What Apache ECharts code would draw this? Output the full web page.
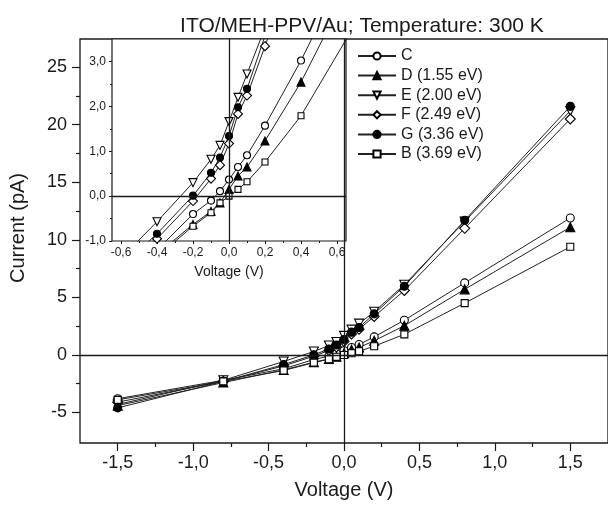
<!DOCTYPE html>
<html><head><meta charset="utf-8">
<script src="https://cdn.jsdelivr.net/npm/echarts@6/dist/echarts.min.js"></script>
<style>html,body{margin:0;padding:0;background:#fff}#c{width:608px;height:505px}</style>
</head><body><div id="c"></div>
<script>
const voltages = [-1.5, -0.8, -0.4, -0.2, -0.1, -0.05, 0, 0.05, 0.1, 0.2, 0.4, 0.8, 1.5];
const seriesNames = ['C', 'D (1.55 eV)', 'E (2.00 eV)', 'F (2.49 eV)', 'G (3.36 eV)', 'B (3.69 eV)'];
const currentC = [-3.8, -2.2, -1.2, -0.40, -0.10, 0.11, 0.37, 0.65, 0.91, 1.57, 3.02, 6.26, 11.9];
const currentD = [-4.4, -2.4, -1.3, -0.63, -0.34, -0.15, 0.15, 0.45, 0.65, 1.23, 2.54, 5.7, 11.1];
const currentE = [-4.3, -2.2, -0.57, 0.30, 0.82, 1.13, 1.66, 2.2, 2.72, 3.75, 6.1, 11.6, 21.2];
const currentF = [-4.1, -2.3, -0.95, -0.11, 0.39, 0.69, 1.17, 1.83, 2.24, 3.34, 5.6, 11.0, 20.5];
const currentG = [-4.6, -2.3, -0.84, 0.01, 0.52, 0.86, 1.34, 1.98, 2.39, 3.57, 5.97, 11.7, 21.6];
const currentB = [-3.9, -2.3, -1.35, -0.67, -0.37, -0.15, 0.0, 0.15, 0.32, 0.76, 1.79, 4.5, 9.4];
const xMajorTicks = [-1.5, -1, -0.5, 0, 0.5, 1, 1.5];
const xMinorTicks = [-1.25, -0.75, -0.25, 0.25, 0.75, 1.25];
const yMajorTicks = [-5, 0, 5, 10, 15, 20, 25];
const yMinorTicks = [-2.5, 2.5, 7.5, 12.5, 17.5, 22.5];
const insetXTicks = [-0.6, -0.4, -0.2, 0, 0.2, 0.4, 0.6];
const insetXMinor = [-0.5, -0.3, -0.1, 0.1, 0.3, 0.5];
const insetYTicks = [-1, 0, 1, 2, 3];
const insetYMinor = [-0.5, 0.5, 1.5, 2.5];

const allCurrents = [currentC, currentD, currentE, currentF, currentG, currentB];
const FONT = '"Liberation Sans", Arial, sans-serif';
const INK = '#1a1a1a';
const markers = [
  {symbol: 'circle', size: 8, fill: '#fff', rot: 0},
  {symbol: 'triangle', size: 9, fill: '#000', rot: 0},
  {symbol: 'triangle', size: 9, fill: '#fff', rot: 180},
  {symbol: 'diamond', size: 10, fill: '#fff', rot: 0},
  {symbol: 'circle', size: 8, fill: '#000', rot: 0},
  {symbol: 'rect', size: 7, fill: '#fff', rot: 0}
];
const comma = (d) => (v) => v.toFixed(d).replace('.', ',');

function mkSeries(i, xi, yi, inset) {
  const m = markers[i];
  const s = {
    name: seriesNames[i], type: 'line', xAxisIndex: xi, yAxisIndex: yi,
    data: voltages.map((v, k) => [v, allCurrents[i][k]]),
    symbol: m.symbol, symbolSize: inset ? m.size - 1 : m.size, symbolRotate: m.rot,
    showAllSymbol: true, clip: true,
    lineStyle: {color: '#222', width: 1},
    itemStyle: {color: m.fill, borderColor: '#000', borderWidth: 1.1},
    emphasis: {disabled: true}, z: 3
  };
  if (i === 0) {
    s.markLine = {silent: true, symbol: 'none', animation: false, label: {show: false},
      lineStyle: {color: INK, type: 'solid', width: 1.3},
      data: [{xAxis: 0}, {yAxis: 0}]};
  }
  return s;
}
const series = [];
for (let i = 0; i < 6; i++) series.push(mkSeries(i, 0, 0, false));
for (let i = 0; i < 6; i++) series.push(mkSeries(i, 2, 2, true));

const lbl = {fontFamily: FONT, color: INK};
const noLine = {show: false, onZero: false};
const option = {
  animation: false,
  backgroundColor: '#fff',
  title: {text: 'ITO/MEH-PPV/Au; Temperature: 300 K', left: 357, top: 11, textAlign: 'center',
    textStyle: {fontFamily: FONT, fontWeight: 'normal', fontSize: 21, color: INK}},
  legend: {
    data: seriesNames, orient: 'vertical', left: 352, top: 42,
    itemWidth: 38, itemHeight: 9, itemGap: 1.6,
    textStyle: {fontFamily: FONT, fontSize: 16, color: INK, lineHeight: 18},
    selectedMode: false
  },
  grid: [
    {left: 80, top: 39, width: 530, height: 405, show: true, borderColor: INK, borderWidth: 1.3, backgroundColor: 'transparent'},
    {left: 112, top: 39, width: 234, height: 202, show: true, borderColor: INK, borderWidth: 1.2, backgroundColor: '#fff', z: 2}
  ],
  xAxis: [
    {gridIndex: 0, type: 'value', min: -1.75, max: 1.75, position: 'bottom',
      name: 'Voltage (V)', nameLocation: 'middle', nameGap: 37,
      nameTextStyle: {fontFamily: FONT, fontSize: 20, color: INK},
      axisLine: noLine, splitLine: {show: false},
      axisTick: {customValues: xMajorTicks, length: 8, lineStyle: {color: INK, width: 1.2}},
      axisLabel: {customValues: xMajorTicks, formatter: comma(1), fontSize: 18, margin: 11, ...lbl}},
    {gridIndex: 0, type: 'value', min: -1.75, max: 1.75, position: 'bottom',
      axisLine: noLine, splitLine: {show: false},
      axisTick: {customValues: xMinorTicks, length: 4, lineStyle: {color: INK, width: 1.2}},
      axisLabel: {show: false}},
    {gridIndex: 1, type: 'value', min: -0.65, max: 0.65, position: 'bottom',
      name: 'Voltage (V)', nameLocation: 'middle', nameGap: 24,
      nameTextStyle: {fontFamily: FONT, fontSize: 14, color: INK},
      axisLine: noLine, splitLine: {show: false},
      axisTick: {customValues: insetXTicks, length: 3, lineStyle: {color: INK}},
      axisLabel: {customValues: insetXTicks, formatter: comma(1), fontSize: 12, margin: 6, ...lbl}},
    {gridIndex: 1, type: 'value', min: -0.65, max: 0.65, position: 'bottom',
      axisLine: noLine, splitLine: {show: false},
      axisTick: {customValues: insetXMinor, length: 2, lineStyle: {color: INK}},
      axisLabel: {show: false}}
  ],
  yAxis: [
    {gridIndex: 0, type: 'value', min: -7.65, max: 27.45, position: 'left',
      name: 'Current (pA)', nameLocation: 'middle', nameGap: 52,
      nameTextStyle: {fontFamily: FONT, fontSize: 20, color: INK, padding: [0, 0, 0, 26]},
      axisLine: noLine, splitLine: {show: false},
      axisTick: {customValues: yMajorTicks, length: 8, lineStyle: {color: INK, width: 1.2}},
      axisLabel: {customValues: yMajorTicks, fontSize: 18, margin: 13, ...lbl}},
    {gridIndex: 0, type: 'value', min: -7.65, max: 27.45, position: 'left',
      axisLine: noLine, splitLine: {show: false},
      axisTick: {customValues: yMinorTicks, length: 4, lineStyle: {color: INK, width: 1.2}},
      axisLabel: {show: false}},
    {gridIndex: 1, type: 'value', min: -1, max: 3.5, position: 'left',
      axisLine: noLine, splitLine: {show: false},
      axisTick: {customValues: insetYTicks, length: 3, lineStyle: {color: INK}},
      axisLabel: {customValues: insetYTicks, formatter: comma(1), fontSize: 12, margin: 6, ...lbl}},
    {gridIndex: 1, type: 'value', min: -1, max: 3.5, position: 'left',
      axisLine: noLine, splitLine: {show: false},
      axisTick: {customValues: insetYMinor, length: 2, lineStyle: {color: INK}},
      axisLabel: {show: false}}
  ],
  series: series
};
const chart = echarts.init(document.getElementById('c'), null, {renderer: 'canvas'});
chart.setOption(option);
</script></body></html>
